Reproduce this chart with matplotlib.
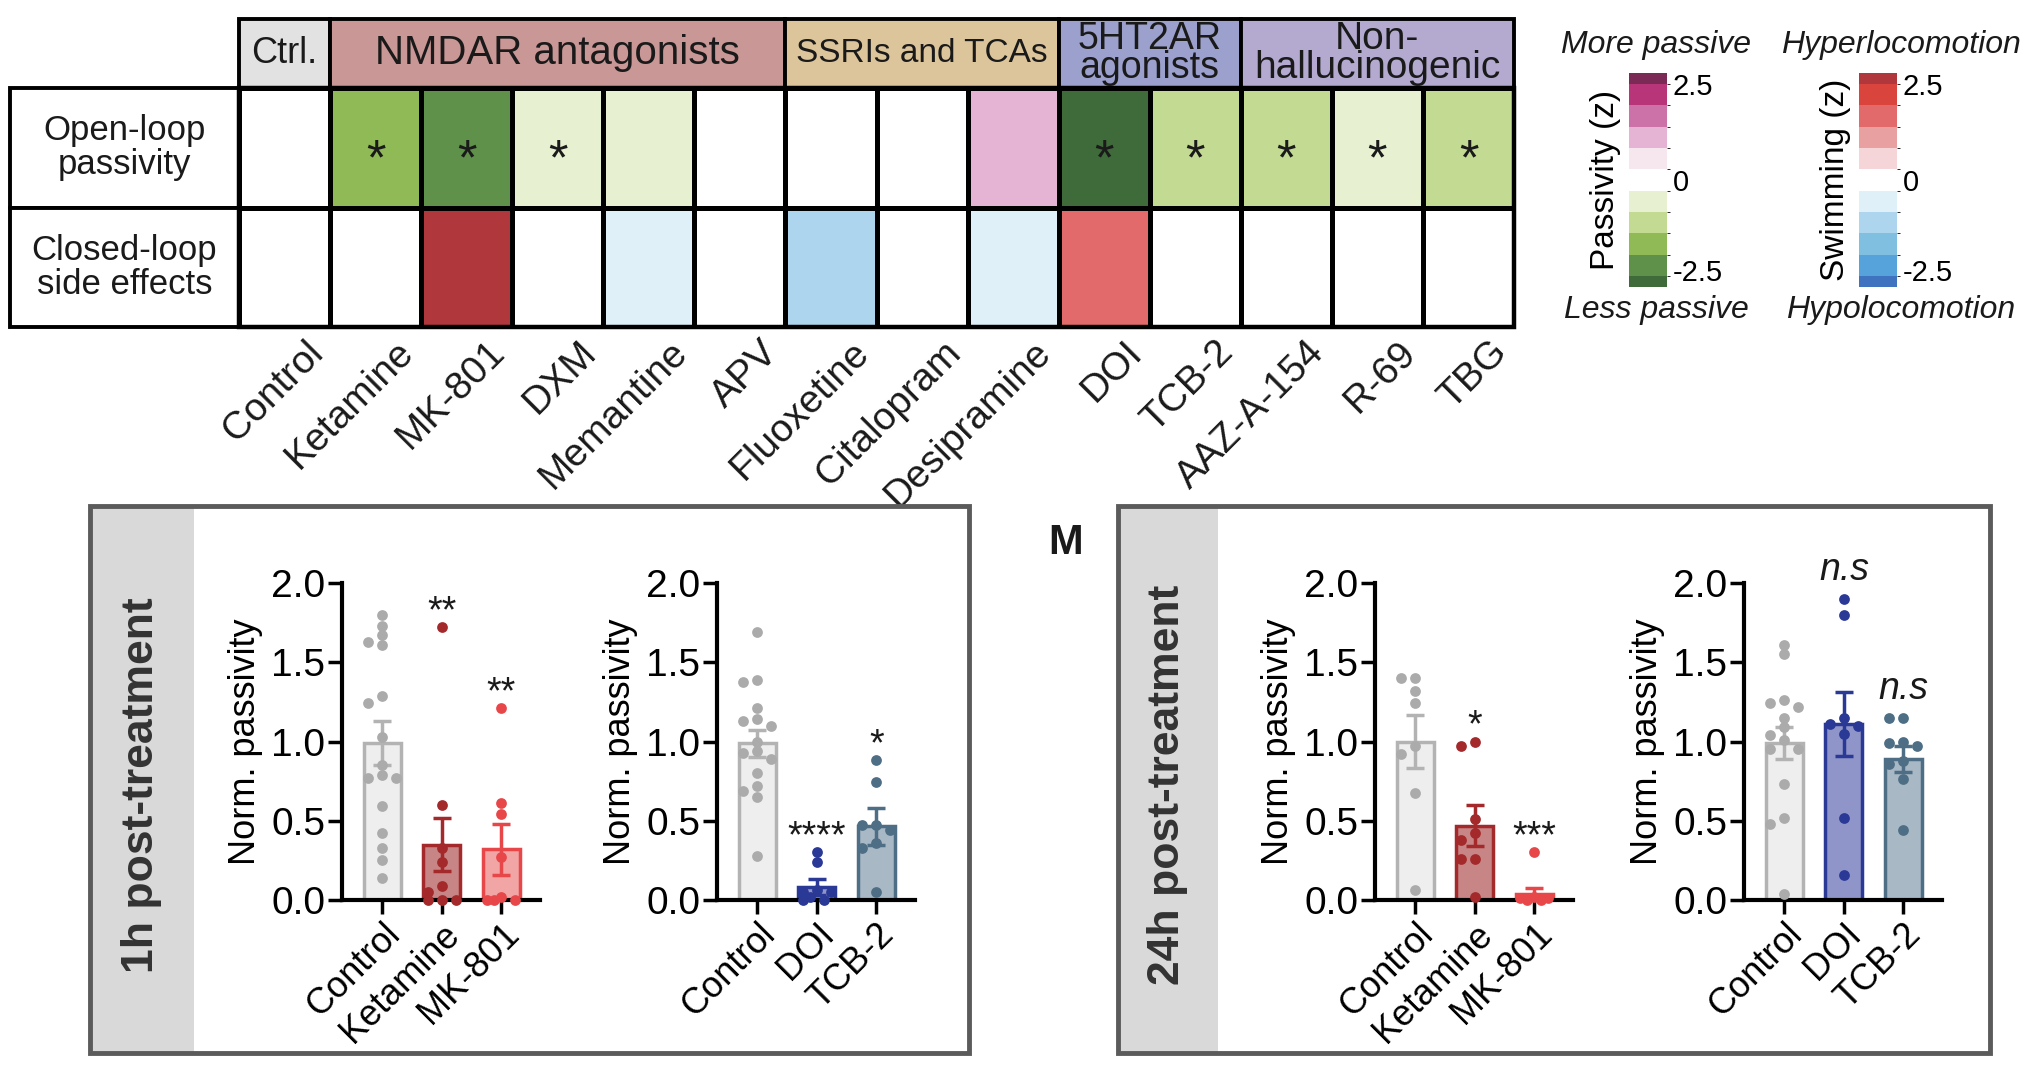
import numpy as np
import matplotlib
matplotlib.use('Agg')
import matplotlib.pyplot as plt
import matplotlib.colors as mcolors
from matplotlib.patches import Rectangle
from matplotlib.cm import ScalarMappable

plt.rcParams['font.family'] = ['Liberation Sans', 'DejaVu Sans']
plt.rcParams['text.color'] = '#1a1a1a'

# ---------------- heatmap data ----------------
drugs = ['Control', 'Ketamine', 'MK-801', 'DXM', 'Memantine', 'APV', 'Fluoxetine',
         'Citalopram', 'Desipramine', 'DOI', 'TCB-2', 'AAZ-A-154', 'R-69', 'TBG']
passivity_z = [0, -1.5, -2.0, -0.5, -0.5, 0, 0, 0, 1.0, -2.4, -1.0, -1.0, -0.5, -1.0]
passivity_sig = [0, 1, 1, 1, 0, 0, 0, 0, 0, 1, 1, 1, 1, 1]
swimming_z = [0, 0, 2.4, 0, -0.5, 0, -1.0, 0, -0.5, 1.5, 0, 0, 0, 0]

group_names = ['Ctrl.', 'NMDAR antagonists', 'SSRIs and TCAs', '5HT2AR\nagonists', 'Non-\nhallucinogenic']
group_sizes = [1, 5, 3, 2, 3]
group_colors = ['#e2e2e2', '#c99796', '#dcc59b', '#9ba1cc', '#b4a9cf']
row_names = ['Open-loop\npassivity', 'Closed-loop\nside effects']

z_bounds = [-2.5, -2.25, -1.75, -1.25, -0.75, -0.25, 0.25, 0.75, 1.25, 1.75, 2.25, 2.5]
passivity_colors = ['#3f6b3a', '#5f914a', '#8fba55', '#c2da92', '#e8f0d2', '#ffffff',
                    '#f6e6ee', '#e5b3d3', '#cc72a8', '#b8357a', '#7a2a55']
swimming_colors = ['#3f72bf', '#55a3da', '#80bfe0', '#add6ee', '#e0f0f8', '#ffffff',
                   '#f5d5d8', '#e8a0a0', '#e36a6a', '#d9443d', '#b0373b']

# ---------------- bar chart data ----------------
nmda_names = ['Control', 'Ketamine', 'MK-801']
ht_names = ['Control', 'DOI', 'TCB-2']

h1_nmda_points = [
    [1.80, 1.73, 1.67, 1.63, 1.61, 1.29, 1.24, 1.03, 0.85, 0.79, 0.77, 0.77, 0.59, 0.42, 0.33, 0.25, 0.14],
    [1.72, 0.60, 0.33, 0.24, 0.09, 0.05, 0.0, 0.0, 0.0],
    [1.21, 0.61, 0.54, 0.27, 0.02, 0.0, 0.0, 0.0],
]
h1_nmda_mean = [0.99, 0.35, 0.32]
h1_nmda_sem = [0.14, 0.17, 0.16]
h1_nmda_marks = ['', '**', '**']

h1_ht_points = [
    [1.69, 1.39, 1.375, 1.21, 1.14, 1.13, 1.10, 1.00, 0.94, 0.93, 0.89, 0.80, 0.72, 0.69, 0.65, 0.28],
    [0.30, 0.24, 0.06, 0.05, 0.05, 0.02, 0.0, 0.0],
    [0.885, 0.745, 0.475, 0.475, 0.44, 0.36, 0.33, 0.05],
]
h1_ht_mean = [0.99, 0.08, 0.465]
h1_ht_sem = [0.085, 0.05, 0.115]
h1_ht_marks = ['', '****', '*']

h24_nmda_points = [
    [1.40, 1.40, 1.32, 1.245, 0.97, 0.92, 0.675, 0.065],
    [1.00, 0.97, 0.51, 0.42, 0.38, 0.26, 0.26, 0.02],
    [0.30, 0.02, 0.01, 0.01, 0.0, 0.0],
]
h24_nmda_mean = [1.0, 0.47, 0.04]
h24_nmda_sem = [0.165, 0.13, 0.035]
h24_nmda_marks = ['', '*', '***']

h24_ht_points = [
    [1.61, 1.55, 1.26, 1.24, 1.22, 1.15, 1.09, 1.04, 1.01, 0.955, 0.955, 0.73, 0.52, 0.48, 0.04],
    [1.90, 1.80, 1.15, 1.11, 1.10, 1.05, 0.52, 0.16],
    [1.15, 1.15, 1.00, 0.99, 0.97, 0.88, 0.86, 0.765, 0.44],
]
h24_ht_mean = [0.99, 1.11, 0.89]
h24_ht_sem = [0.10, 0.20, 0.08]
h24_ht_marks = ['', 'n.s', 'n.s']

# colours per treatment: (bar face, bar edge, dots)
styles = {
    'Control': ('#eeeeee', '#b3b3b3', '#ababab'),
    'Ketamine': ('#c88585', '#a3292b', '#a3292b'),
    'MK-801': ('#f2a5a5', '#e8474a', '#e8474a'),
    'DOI': ('#8f95c8', '#2a3896', '#2a3896'),
    'TCB-2': ('#a8b8c5', '#4d6e84', '#4d6e84'),
}

W, H = 2026, 1068
fig = plt.figure(figsize=(W / 100, H / 100), dpi=100)


def px_axes(left, top, right, bottom):
    return fig.add_axes([left / W, 1 - bottom / H, (right - left) / W, (bottom - top) / H])


# ---------------- heatmap ----------------
ax = px_axes(239, 88, 1514, 327)
n = len(drugs)
cmap_p = mcolors.ListedColormap(passivity_colors)
cmap_s = mcolors.ListedColormap(swimming_colors)
norm_p = mcolors.BoundaryNorm(z_bounds, cmap_p.N)
norm_s = mcolors.BoundaryNorm(z_bounds, cmap_s.N)
ax.pcolormesh(np.arange(n + 1), [0, 1], np.array([passivity_z]), cmap=cmap_p, norm=norm_p,
              edgecolors='k', linewidth=2.5)
ax.pcolormesh(np.arange(n + 1), [1, 2], np.array([swimming_z]), cmap=cmap_s, norm=norm_s,
              edgecolors='k', linewidth=2.5)
ax.set_xlim(0, n)
ax.set_ylim(2, 0)
ax.axis('off')

head_h = 69 / 119.5
label_w = 229 / (1275 / 14)
head_fs = [26, 29, 24, 27, 28]
start = 0
for name, size, color, fs in zip(group_names, group_sizes, group_colors, head_fs):
    ax.add_patch(Rectangle((start, -head_h), size, head_h, facecolor=color, edgecolor='k',
                           lw=2.8, clip_on=False))
    ax.text(start + size / 2, -head_h / 2, name, ha='center', va='center', fontsize=fs,
            linespacing=0.72)
    start += size

for r, name in enumerate(row_names):
    ax.add_patch(Rectangle((-label_w, r), label_w, 1, facecolor='white', edgecolor='k',
                           lw=2.8, clip_on=False))
    ax.text(-label_w / 2, r + 0.5, name, ha='center', va='center', fontsize=25, linespacing=1.05)

ax.add_patch(Rectangle((0, 0), n, 2, fill=False, edgecolor='k', lw=3.2, clip_on=False))

for i, s in enumerate(passivity_sig):
    if s:
        ax.text(i + 0.5, 0.72, '*', ha='center', va='baseline', fontsize=36)

for i, d in enumerate(drugs):
    ax.text(i + 0.72, 2.06, d, rotation=45, ha='right', va='top', rotation_mode='anchor',
            fontsize=28)

# ---------------- colour legends ----------------
for left, cmap, norm, label, top_txt, bot_txt, cx in [
        (1629, cmap_p, norm_p, 'Passivity (z)', 'More passive', 'Less passive', 1656),
        (1859, cmap_s, norm_s, 'Swimming (z)', 'Hyperlocomotion', 'Hypolocomotion', 1901)]:
    cax = px_axes(left, 73, left + 38, 287)
    cb = fig.colorbar(ScalarMappable(norm=norm, cmap=cmap), cax=cax, ticks=[-2.5, 0, 2.5],
                      spacing='proportional')
    cb.outline.set_visible(False)
    cb.ax.set_yticklabels(['-2.5', '0', '2.5'])
    cb.ax.tick_params(length=0, labelsize=21, pad=4)
    tl = cb.ax.get_yticklabels()
    tl[0].set_va('bottom')
    tl[2].set_va('top')
    cb.ax.yaxis.set_label_position('left')
    cb.ax.set_ylabel(label, fontsize=24, labelpad=6)
    fig.text(cx / W, 1 - 45 / H, top_txt, ha='center', va='center', style='italic', fontsize=23)
    fig.text(cx / W, 1 - 310 / H, bot_txt, ha='center', va='center', style='italic', fontsize=23)


# ---------------- bottom panels ----------------
def panel_box(left, right, strip_right, label):
    top, bottom = 506, 1053
    fig.add_artist(Rectangle((left / W, 1 - bottom / H), (strip_right - left) / W, (bottom - top) / H,
                             transform=fig.transFigure, facecolor='#d9d9d9', edgecolor='none'))
    fig.add_artist(Rectangle((left / W, 1 - bottom / H), (right - left) / W, (bottom - top) / H,
                             transform=fig.transFigure, fill=False, edgecolor='#5b5b5b', lw=3.5))
    fig.text((left + strip_right) / 2 / W, 1 - 785 / H, label, rotation=90, ha='center',
             va='center', fontsize=32, fontweight='bold', color='#333333')


def swarm(values, px_x=59.5, px_y=159.0, step=14.0, d=9.0):
    # simple column scatter: keep dots near the centre, spread only when crowded
    placed = []
    offs = []
    cands = [0, -1, 1, -0.5, 0.5]
    for v in values:
        y = v * px_y
        best, best_gap = 0, -1
        for c in cands:
            xo = c * step
            gap = min([np.hypot(xo - px, y - py) for px, py in placed] + [1e9])
            if gap >= d:
                best = xo
                break
            if gap > best_gap:
                best, best_gap = xo, gap
        placed.append((best, y))
        offs.append(best / px_x)
    return np.array(offs)


def bar_panel(left, names, points, means, sems, marks):
    ax = px_axes(left, 583, left + 198, 900)
    x = np.arange(len(names))
    for i, nm in enumerate(names):
        face, edge, dot = styles[nm]
        ax.bar(x[i], means[i], width=0.62, color=face, edgecolor=edge, linewidth=2.5, zorder=2)
        ax.errorbar(x[i], means[i], yerr=sems[i], fmt='none', ecolor=edge, elinewidth=2.5,
                    capsize=6.5, capthick=2.5, zorder=3)
        ax.scatter(x[i] + swarm(points[i]), points[i], s=60, color=dot, linewidths=0,
                   zorder=4, clip_on=False)
        if marks[i]:
            ns = 'n.s' in marks[i]
            ax.text(x[i], max(points[i]) + (0.12 if ns else 0.03), marks[i], ha='center',
                    va='baseline', fontsize=27, style='italic' if ns else 'normal')
    ax.set_xlim(-0.68, 2.65)
    ax.set_ylim(0, 2)
    ax.set_yticks(np.arange(0, 2.01, 0.5))
    ax.set_yticklabels(['%.1f' % t for t in np.arange(0, 2.01, 0.5)])
    ax.set_xticks(x)
    ax.set_xticklabels(names, rotation=45, ha='right', rotation_mode='anchor')
    for sp in ['top', 'right']:
        ax.spines[sp].set_visible(False)
    for sp in ['left', 'bottom']:
        ax.spines[sp].set_linewidth(3)
    ax.tick_params(axis='both', length=10, width=2.5, pad=2)
    ax.tick_params(axis='y', labelsize=28)
    ax.tick_params(axis='x', labelsize=26)
    ax.set_ylabel('Norm. passivity', fontsize=26, labelpad=6)
    ax.patch.set_alpha(0)
    return ax


panel_box(90, 969, 194, '1h post-treatment')
panel_box(1118, 1990, 1218, '24h post-treatment')
fig.text(1066 / W, 1 - 543 / H, 'M', ha='center', va='center', fontsize=30, fontweight='bold')

bar_panel(342, nmda_names, h1_nmda_points, h1_nmda_mean, h1_nmda_sem, h1_nmda_marks)
bar_panel(717, ht_names, h1_ht_points, h1_ht_mean, h1_ht_sem, h1_ht_marks)
bar_panel(1375, nmda_names, h24_nmda_points, h24_nmda_mean, h24_nmda_sem, h24_nmda_marks)
bar_panel(1744, ht_names, h24_ht_points, h24_ht_mean, h24_ht_sem, h24_ht_marks)

fig.savefig('out.png', dpi=100)
